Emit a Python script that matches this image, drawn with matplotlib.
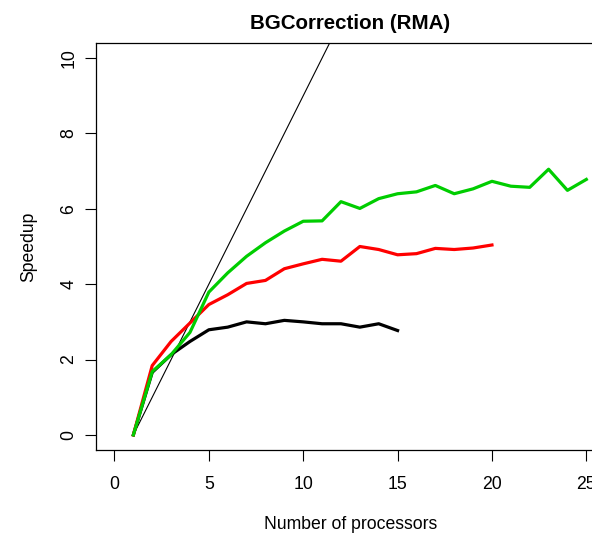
import matplotlib.pyplot as plt

plt.rcParams['font.family'] = ['Liberation Sans', 'DejaVu Sans']

# ideal linear speedup (thin line)
ideal_x = [1, 2, 3, 4, 5, 6, 7, 8, 9, 10, 11, 12]
ideal_y = [0, 1, 2, 3, 4, 5, 6, 7, 8, 9, 10, 11]

# measured speedups
black_x = list(range(1, 16))
black_y = [0, 1.66, 2.13, 2.48, 2.79, 2.86, 3.0, 2.95, 3.04, 3.0, 2.95, 2.95, 2.86, 2.95, 2.77]

red_x = list(range(1, 21))
red_y = [0, 1.84, 2.48, 2.97, 3.46, 3.72, 4.02, 4.10, 4.41, 4.54, 4.66, 4.61, 5.0, 4.92,
         4.78, 4.81, 4.95, 4.92, 4.96, 5.04]

green_x = list(range(1, 26))
green_y = [0, 1.68, 2.13, 2.72, 3.79, 4.30, 4.74, 5.10, 5.41, 5.67, 5.68, 6.19, 6.01, 6.27,
           6.40, 6.45, 6.62, 6.40, 6.53, 6.73, 6.60, 6.57, 7.05, 6.49, 6.78]

fig = plt.figure(figsize=(5.92, 5.36), dpi=100)
W, H = 592, 536
ax = fig.add_axes([95.6 / W, (H - 450) / H, 509.6 / W, 407 / H])

ax.plot(ideal_x, ideal_y, color='black', lw=0.8)
ax.plot(black_x, black_y, color='black', lw=2.3, solid_joinstyle='round')
ax.plot(red_x, red_y, color='#FF0000', lw=2.3, solid_joinstyle='round')
ax.plot(green_x, green_y, color='#00CD00', lw=2.3, solid_joinstyle='round')

ax.set_xlim(-1, 26)
ax.set_ylim(-0.4, 10.4)
ax.set_xticks([0, 5, 10, 15, 20, 25])
ax.set_yticks([0, 2, 4, 6, 8, 10])
ax.tick_params(direction='out', length=8, width=0.8, labelsize=12.7)
ax.tick_params(axis='x', pad=10.5)
ax.tick_params(axis='y', pad=5)
for lbl in ax.get_yticklabels():
    lbl.set_rotation(90)
    lbl.set_va('center')
for s in ax.spines.values():
    s.set_linewidth(0.9)

ax.set_title('BGCorrection (RMA)', fontsize=14.8, fontweight='bold', pad=10)
ax.set_xlabel('Number of processors', fontsize=12.7, labelpad=17)
ax.set_ylabel('Speedup', fontsize=12.7, labelpad=16.5)

fig.savefig('out.png', dpi=100)
